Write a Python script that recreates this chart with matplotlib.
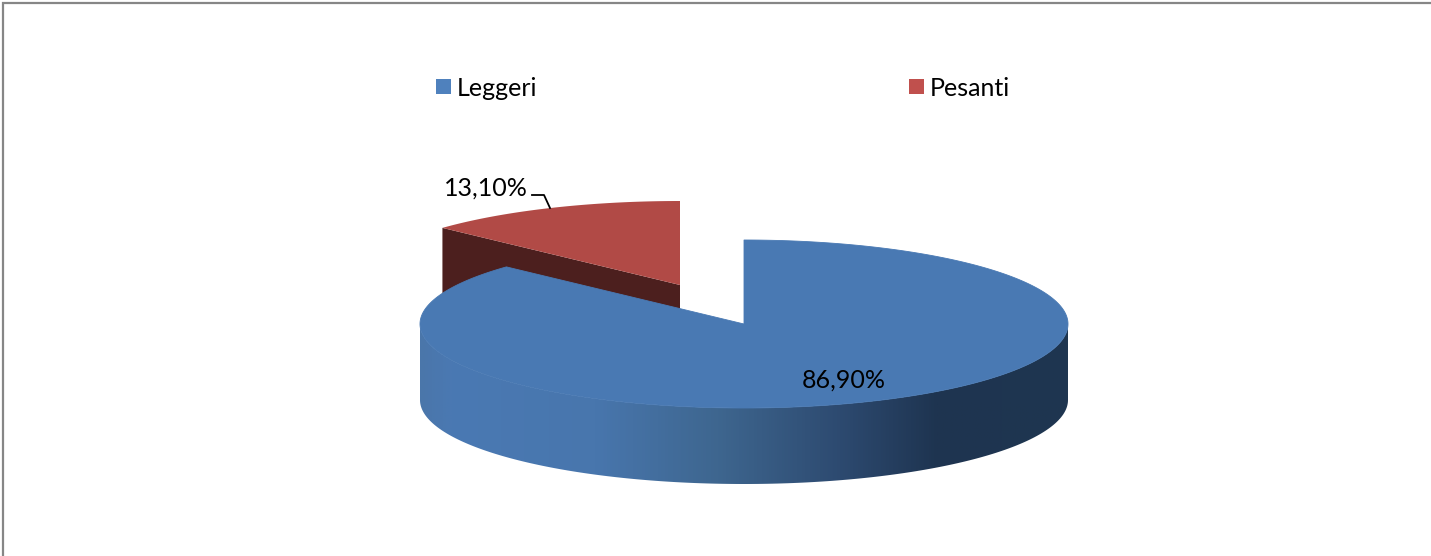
import numpy as np
import matplotlib.pyplot as plt
from matplotlib.colors import LinearSegmentedColormap
from matplotlib.patches import Polygon, Rectangle

categories = ['Leggeri', 'Pesanti']
values = [86.90, 13.10]

W, H = 1431, 556
RX, RY, DEPTH = 324, 84, 76
CENTER = (744, 324)
RED_CENTER = (680, 285)

BLUE = '#4979b3'
RED = '#b14a46'
RED_DARK = '#4c1f1e'
LEGEND_COLORS = ['#4f81bd', '#c0504d']
WALL_STOPS = [(0, '#4a76aa'), (0.05, '#4a79b3'), (0.27, '#4876ad'), (0.46, '#3e668f'),
              (0.65, '#2d4a70'), (0.8, '#1e3450'), (1, '#1f3650')]


def rim(center, a0, a1, n=200):
    t = np.radians(np.linspace(a0, a1, n))
    return np.column_stack([center[0] + RX * np.cos(t), center[1] - RY * np.sin(t)])


def fmt(v):
    return f'{v:.2f}'.replace('.', ',') + '%'


def main():
    fig = plt.figure(figsize=(W / 100, H / 100), dpi=100)
    ax = fig.add_axes([0, 0, 1, 1])
    ax.set_xlim(0, W)
    ax.set_ylim(H, 0)
    ax.axis('off')
    plt.rcParams['font.family'] = ['Lato', 'DejaVu Sans']

    # slice angles, clockwise from 12 o'clock
    split = 90 - values[0] / sum(values) * 360

    # red slice pulled out, cut face first
    red_rim = rim(RED_CENTER, 90, split + 360)
    edge = red_rim[-1]
    face = [edge, RED_CENTER, (RED_CENTER[0], RED_CENTER[1] + DEPTH), (edge[0], edge[1] + DEPTH)]
    ax.add_patch(Polygon(face, fc=RED_DARK, ec='none', zorder=1))
    ax.add_patch(Polygon(np.vstack([red_rim, RED_CENTER]), fc=RED, ec='none', zorder=2))

    # blue outer wall with the gradient
    front = rim(CENTER, 180, 360)
    wall = np.vstack([front, (front + [0, DEPTH])[::-1]])
    cmap = LinearSegmentedColormap.from_list('wall', WALL_STOPS)
    img = ax.imshow(np.linspace(0, 1, 512)[None, :], cmap=cmap, aspect='auto',
                    extent=(CENTER[0] - RX, CENTER[0] + RX, CENTER[1] + RY + DEPTH, CENTER[1]), zorder=3)
    img.set_clip_path(Polygon(wall, transform=ax.transData))
    ax.set_xlim(0, W)
    ax.set_ylim(H, 0)

    # blue top, thin edge hides the seam with the wall
    blue_rim = rim(CENTER, 90, split, 400)
    ax.add_patch(Polygon(np.vstack([blue_rim, CENTER]), fc=BLUE, ec=BLUE, lw=0.6, zorder=4))

    # data labels
    ax.text(844, 380, fmt(values[0]), fontsize=18, color='black', ha='center', va='center', zorder=5)
    ax.text(486, 188, fmt(values[1]), fontsize=18, color='black', ha='center', va='center', zorder=5)
    ax.plot([532, 544, 550], [195, 195, 208], color='black', lw=1.3, zorder=5)

    # legend
    for x, name, c in zip([436, 909], categories, LEGEND_COLORS):
        ax.add_patch(Rectangle((x, 79), 15, 15, fc=c, ec='none'))
        ax.text(x + 21, 88, name, fontsize=18, color='black', ha='left', va='center')

    # chart frame, only top and left are in the crop
    ax.plot([2.5, 2.5, W], [H, 2.5, 2.5], color='#868686', lw=1.6, solid_joinstyle='miter')

    fig.savefig('out.png', dpi=100)


if __name__ == '__main__':
    main()
